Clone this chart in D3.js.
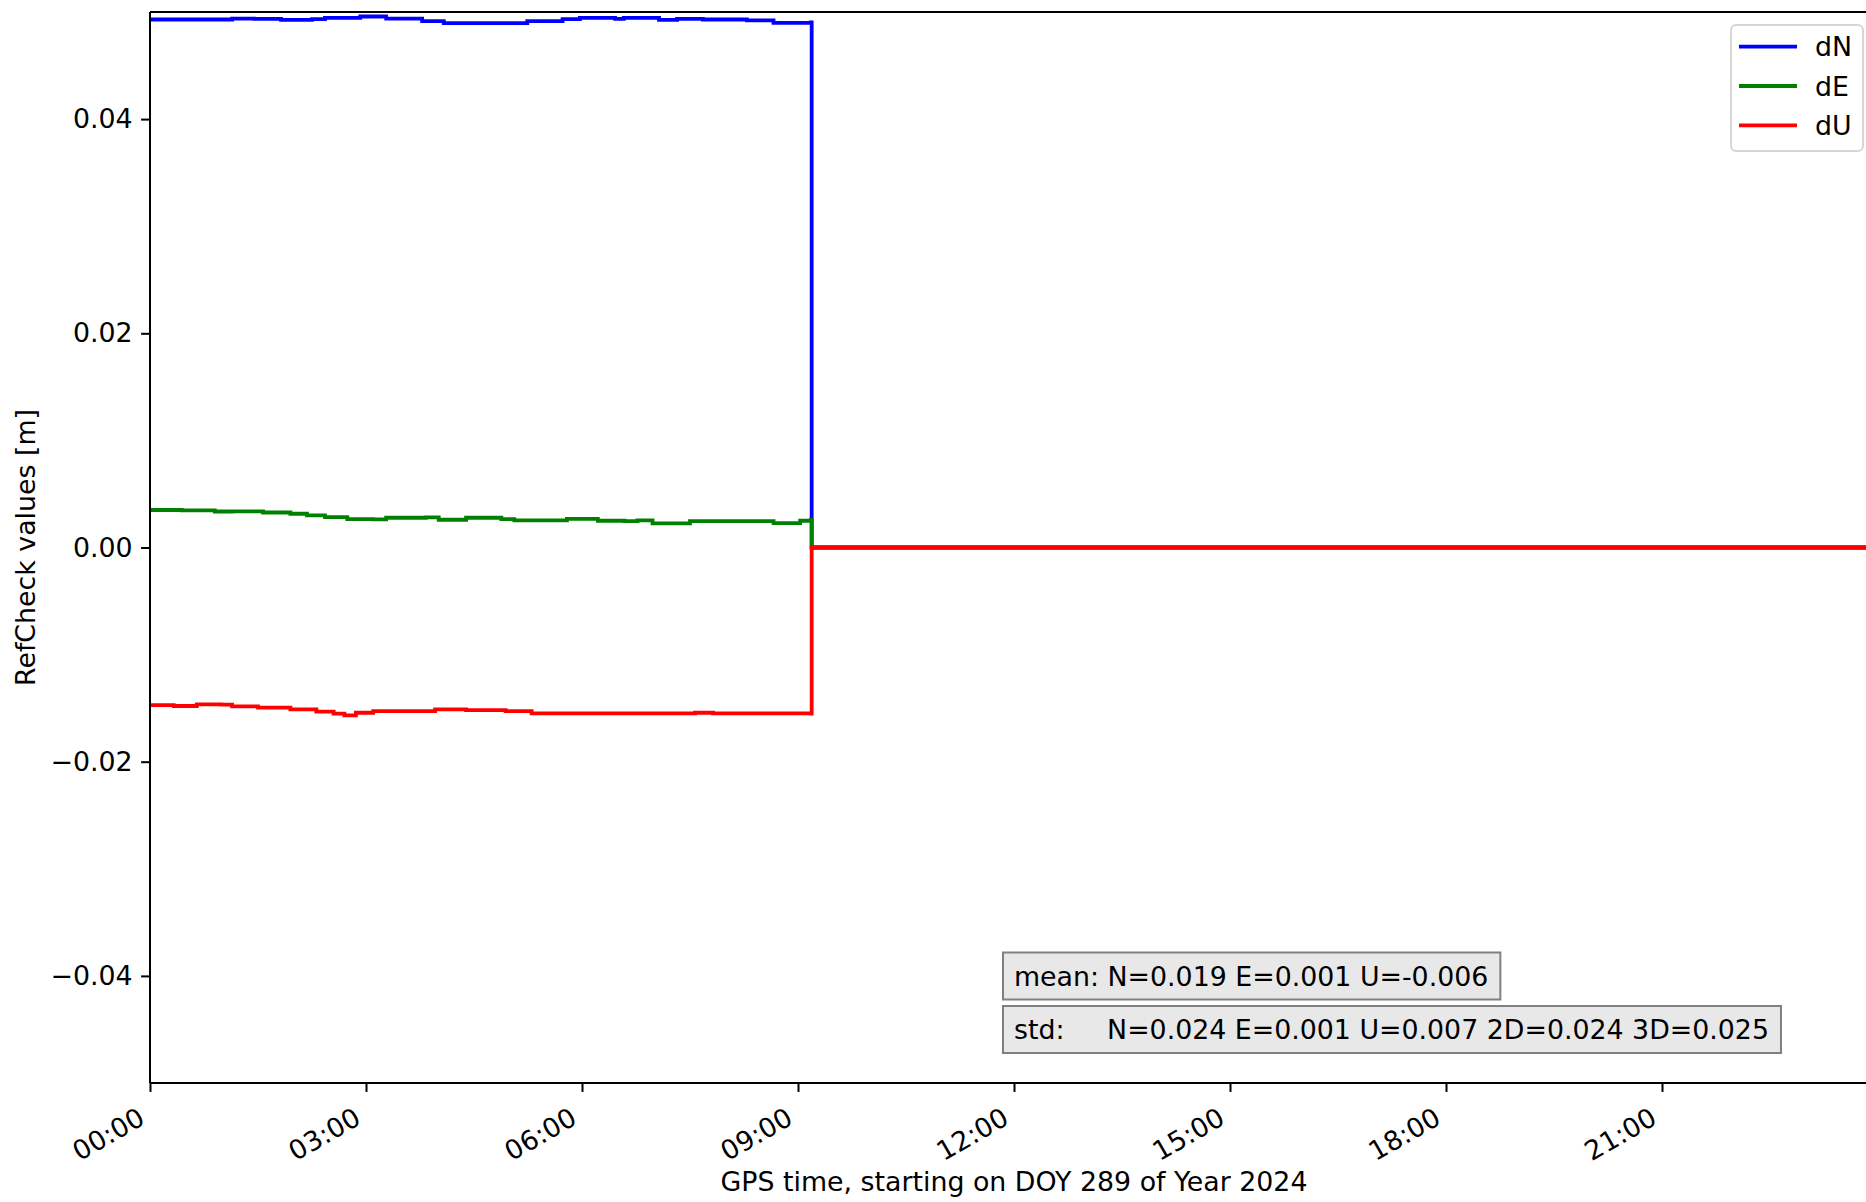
<html lang="en">
<head>
  <meta charset="UTF-8">
  <title>RefCheck values</title>
  <script src="https://d3js.org/d3.v7.min.js"></script>
  <style>
    body { margin: 0; background: white; }
    svg text { font-family: "DejaVu Sans", sans-serif; fill: black; }
  </style>
</head>
<body>
<svg class="refcheck" width="1866" height="1202"></svg>
<script>
  // hours since 00:00 and values [m]
  const nHours = [0, 0.83, 1.14, 1.45, 1.82, 2.25, 2.43, 2.92, 3.28, 3.78, 4.08, 4.87, 5.24, 5.73, 5.97, 6.46, 6.58, 7.07, 7.32, 7.68, 8.29, 8.66, 9.18, 9.19, 24];
  const nValues = [0.04930, 0.04930, 0.04939, 0.04936, 0.04927, 0.04933, 0.04946, 0.04958, 0.04939, 0.04914, 0.04896, 0.04896, 0.04914, 0.04933, 0.04946, 0.04936, 0.04946, 0.04927, 0.04936, 0.04930, 0.04921, 0.04899, 0.04902, 0, 0];

  const eHours = [0, 0.44, 0.9, 1.14, 1.57, 1.95, 2.18, 2.43, 2.74, 3.1, 3.28, 3.83, 4.01, 4.39, 4.88, 5.06, 5.79, 6.22, 6.59, 6.77, 6.98, 7.5, 8.42, 8.66, 9.03, 9.18, 9.19, 24];
  const eValues = [0.00350, 0.00346, 0.00336, 0.00338, 0.00327, 0.00315, 0.00300, 0.00284, 0.00265, 0.00262, 0.00278, 0.00281, 0.00259, 0.00278, 0.00265, 0.00253, 0.00268, 0.00250, 0.00246, 0.00253, 0.00225, 0.00246, 0.00246, 0.00228, 0.00250, 0.00259, 0, 0];

  const uHours = [0, 0.33, 0.65, 0.99, 1.14, 1.5, 1.95, 2.31, 2.55, 2.7, 2.86, 3.1, 3.96, 4.39, 4.94, 5.3, 5.98, 7.57, 7.82, 9.18, 9.19, 24];
  const uValues = [-0.01471, -0.01480, -0.01465, -0.01468, -0.01484, -0.01496, -0.01512, -0.01533, -0.01552, -0.01568, -0.01543, -0.01527, -0.01512, -0.01518, -0.01527, -0.01549, -0.01549, -0.01543, -0.01549, -0.01552, 0, 0];

  const seriesNames = ['dN', 'dE', 'dU'];
  const seriesColors = ['#0000ff', '#008000', '#ff0000'];
  const xTicks = [0, 3, 6, 9, 12, 15, 18, 21];
  const yTicks = [-0.04, -0.02, 0, 0.02, 0.04];
  const statLines = ['mean: N=0.019 E=0.001 U=-0.006', 'std:     N=0.024 E=0.001 U=0.007 2D=0.024 3D=0.025'];

  const series = [
    nHours.map((h, i) => [h, nValues[i]]),
    eHours.map((h, i) => [h, eValues[i]]),
    uHours.map((h, i) => [h, uValues[i]])
  ];

  const fs = 26.8;
  const m = { left: 150, top: 12, right: 1878, bottom: 1083 };
  const svg = d3.select('svg.refcheck');

  const x = d3.scaleLinear().domain([0, 24]).range([m.left, m.right]);
  const y = d3.scaleLinear().domain([-0.05, 0.05]).range([m.bottom, m.top]);

  // lines
  const line = d3.line().curve(d3.curveStepAfter).x(d => x(d[0])).y(d => y(d[1]));
  series.forEach((s, i) => {
    svg.append('path')
      .attr('d', line(s))
      .attr('fill', 'none')
      .attr('stroke', seriesColors[i])
      .attr('stroke-width', 3.8)
      .attr('stroke-linejoin', 'miter');
  });

  // spines
  svg.append('line').attr('x1', m.left).attr('x2', m.left).attr('y1', m.top).attr('y2', m.bottom)
    .attr('stroke', 'black').attr('stroke-width', 2);
  svg.append('line').attr('x1', m.left).attr('x2', m.right).attr('y1', m.top).attr('y2', m.top)
    .attr('stroke', 'black').attr('stroke-width', 2);
  svg.append('line').attr('x1', m.left).attr('x2', m.right).attr('y1', m.bottom).attr('y2', m.bottom)
    .attr('stroke', 'black').attr('stroke-width', 2);

  // y axis
  const yAxis = svg.append('g').attr('transform', `translate(${m.left},0)`)
    .call(d3.axisLeft(y).tickValues(yTicks).tickFormat(d3.format('.2f')).tickSize(8.9).tickPadding(8.5));
  yAxis.select('.domain').remove();
  yAxis.selectAll('.tick line').attr('stroke-width', 2);
  yAxis.selectAll('.tick text').style('font-size', fs + 'px').style('font-family', '"DejaVu Sans"');

  // x axis
  const xAxis = svg.append('g').attr('transform', `translate(0,${m.bottom})`)
    .call(d3.axisBottom(x).tickValues(xTicks).tickFormat(d => String(d).padStart(2, '0') + ':00').tickSize(8.9));
  xAxis.select('.domain').remove();
  xAxis.selectAll('.tick line').attr('stroke-width', 2);
  xAxis.selectAll('.tick text')
    .attr('x', -4).attr('y', 40).attr('dy', null)
    .attr('text-anchor', 'end')
    .attr('transform', 'rotate(-30,-4,40)')
    .style('font-size', fs + 'px').style('font-family', '"DejaVu Sans"');

  // axis labels
  svg.append('text')
    .attr('x', (m.left + m.right) / 2).attr('y', 1191)
    .attr('text-anchor', 'middle').style('font-size', fs + 'px')
    .text('GPS time, starting on DOY 289 of Year 2024');
  svg.append('text')
    .attr('transform', `translate(35,${(m.top + m.bottom) / 2}) rotate(-90)`)
    .attr('text-anchor', 'middle').style('font-size', fs + 'px')
    .text('RefCheck values [m]');

  // stats boxes
  const statY = [976, 1029.5];
  statLines.forEach((t, i) => {
    const g = svg.append('g');
    const txt = g.append('text')
      .attr('x', 1014).attr('y', statY[i])
      .attr('dominant-baseline', 'central')
      .style('font-size', fs + 'px').style('white-space', 'pre')
      .attr('xml:space', 'preserve')
      .text(t);
    const bb = txt.node().getBBox();
    g.insert('rect', 'text')
      .attr('x', 1003).attr('y', statY[i] - 23.5)
      .attr('width', bb.x + bb.width + 12 - 1003).attr('height', 47)
      .attr('fill', '#e8e8e8').attr('stroke', '#808080').attr('stroke-width', 2);
  });

  // legend
  const legend = svg.append('g');
  legend.append('rect')
    .attr('x', 1731).attr('y', 25).attr('width', 132).attr('height', 126)
    .attr('rx', 5).attr('fill', 'white').attr('fill-opacity', 0.8)
    .attr('stroke', '#d6d6d6').attr('stroke-width', 2);
  seriesNames.forEach((name, i) => {
    const ly = 46.7 + i * 39.3;
    legend.append('line').attr('x1', 1739).attr('x2', 1797).attr('y1', ly).attr('y2', ly)
      .attr('stroke', seriesColors[i]).attr('stroke-width', 3.8);
    legend.append('text').attr('x', 1815).attr('y', ly + 9.6)
      .style('font-size', fs + 'px').text(name);
  });
</script>
</body>
</html>
